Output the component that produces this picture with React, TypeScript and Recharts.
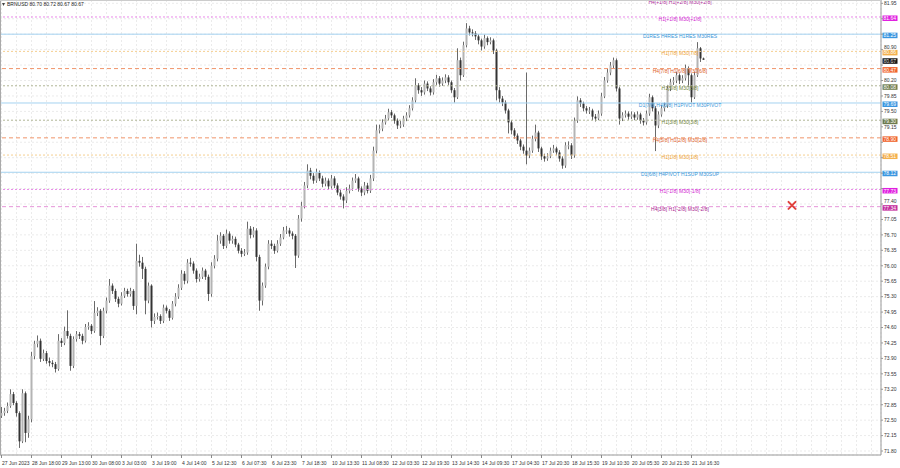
import React from "react";
import {
  ComposedChart,
  Bar,
  XAxis,
  YAxis,
  CartesianGrid,
  ReferenceLine,
  ReferenceDot,
} from "recharts";

// M30 candles, one per slot
const firstOpen = 72.6;

const closes = [
  72.66, 72.71, 72.82, 73.09, 72.89, 72.66, 72.02, 73.11, 72.21, 72.52,
  73.95, 74.23, 74.3, 73.89, 74.02, 73.84, 73.8, 73.77, 73.66, 74.3,
  74.25, 74.52, 74.41, 73.73, 74.34, 74.45, 74.41, 74.3, 74.61, 74.64,
  74.52, 74.93, 74.98, 74.41, 74.98, 75.21, 75.55, 75.43, 75.25, 75.14,
  75.32, 75.43, 75.36, 75.43, 75.09, 76.11, 76.07, 75.93, 75.21, 75.55,
  74.75, 74.84, 74.86, 74.75, 75.05, 74.98, 74.82, 75.14, 75.3, 75.5,
  75.82, 75.66, 76.07, 76.05, 75.89, 75.7, 75.75, 75.89, 75.75, 75.36,
  76.0, 76.16, 76.57, 76.68, 76.45, 76.73, 76.57, 76.61, 76.48, 76.34,
  76.27, 76.3, 76.84, 76.7, 76.8, 76.2, 75.21, 75.55, 75.98, 76.5,
  76.45, 76.34, 76.5, 76.64, 76.8, 76.8, 76.73, 76.68, 76.23, 77.07,
  77.36, 77.82, 78.16, 78.04, 77.93, 78.11, 77.98, 77.86, 77.93, 77.8,
  77.98, 77.82, 77.66, 77.57, 77.48, 77.7, 77.75, 77.93, 77.98, 77.75,
  77.66, 77.82, 77.7, 77.98, 78.61, 79.07, 79.11, 79.25, 79.34, 79.48,
  79.41, 79.29, 79.18, 79.2, 79.34, 79.41, 79.57, 79.75, 80.09, 79.98,
  79.93, 80.13, 80.02, 79.93, 80.16, 80.25, 80.13, 80.2, 80.27, 80.16,
  79.98, 79.82, 80.66, 80.32, 81.0, 81.38, 81.29, 81.27, 81.2, 81.11,
  80.97, 81.16, 81.07, 81.11, 80.88, 79.98, 79.79, 79.7, 79.52, 79.25,
  79.07, 78.95, 78.84, 78.7, 78.61, 78.5, 78.61, 78.88, 79.02, 78.66,
  78.48, 78.43, 78.48, 78.61, 78.66, 78.57, 78.43, 78.27, 78.73, 78.73,
  78.5, 79.29, 79.75, 79.68, 79.57, 79.52, 79.52, 79.38, 79.34, 79.45,
  79.84, 80.2, 80.38, 80.54, 80.66, 80.02, 79.34, 79.41, 79.45, 79.38,
  79.43, 79.36, 79.43, 79.29, 79.25, 79.45, 79.82, 79.57, 79.18, 79.43,
  79.57, 79.63, 80.02, 80.16, 80.2, 80.32, 80.2, 80.25, 80.48, 80.32,
  79.82, 80.32, 80.93, 80.7, 80.67,
];

const highs = [
  72.8, 72.78, 72.9, 73.2, 73.14, 72.93, 72.7, 73.2, 73.15, 72.6,
  74.05, 74.3, 74.42, 74.35, 74.1, 74.07, 73.92, 73.86, 73.82, 74.45,
  74.36, 74.62, 74.99, 74.46, 74.4, 74.52, 74.5, 74.46, 74.68, 74.72,
  74.68, 75.2, 75.06, 75.02, 75.05, 75.28, 75.7, 75.6, 75.48, 75.3,
  75.4, 75.5, 75.48, 75.5, 75.47, 76.5, 76.25, 76.2, 75.98, 75.62,
  75.58, 74.92, 74.94, 74.9, 75.12, 75.1, 75.02, 75.2, 75.38, 75.58,
  75.9, 75.88, 76.15, 76.18, 76.1, 75.94, 75.82, 75.96, 75.93, 75.8,
  76.08, 76.24, 76.7, 76.76, 76.72, 76.82, 76.78, 76.68, 76.66, 76.52,
  76.4, 76.38, 77.0, 76.9, 76.88, 76.85, 76.25, 75.62, 76.05, 76.58,
  76.58, 76.5, 76.58, 76.72, 76.88, 76.9, 76.86, 76.78, 76.72, 77.15,
  77.45, 77.9, 78.3, 78.22, 78.1, 78.2, 78.16, 78.04, 78.0, 77.98,
  78.06, 78.03, 77.87, 77.72, 77.62, 77.78, 77.84, 78.0, 78.08, 78.02,
  77.8, 77.9, 77.88, 78.06, 78.7, 79.2, 79.2, 79.32, 79.42, 79.56,
  79.53, 79.45, 79.34, 79.28, 79.4, 79.48, 79.64, 79.82, 80.25, 80.14,
  80.05, 80.2, 80.18, 80.07, 80.23, 80.33, 80.3, 80.27, 80.34, 80.32,
  80.2, 80.03, 80.93, 80.72, 81.08, 81.5, 81.44, 81.36, 81.32, 81.25,
  81.15, 81.24, 81.2, 81.18, 81.15, 80.92, 80.05, 79.85, 79.75, 79.56,
  79.3, 79.12, 79.0, 78.88, 78.75, 80.38, 78.68, 78.95, 79.2, 79.06,
  78.7, 78.54, 78.55, 78.68, 78.74, 78.7, 78.62, 78.48, 78.8, 78.82,
  78.78, 79.36, 79.84, 79.8, 79.72, 79.62, 79.6, 79.56, 79.44, 79.52,
  79.92, 80.28, 80.46, 80.62, 80.72, 80.7, 80.06, 79.48, 79.52, 79.5,
  79.5, 79.48, 79.5, 79.47, 79.35, 79.52, 79.9, 79.86, 79.62, 79.5,
  79.64, 79.7, 80.1, 80.24, 80.28, 80.4, 80.36, 80.32, 80.56, 80.52,
  80.36, 80.4, 81.07, 80.96, 80.72,
];

const lows = [
  72.55, 72.6, 72.66, 72.78, 72.84, 72.58, 71.87, 71.98, 72.0, 72.1,
  72.45, 73.88, 74.15, 73.82, 73.84, 73.78, 73.72, 73.7, 73.58, 73.62,
  74.16, 74.2, 74.35, 73.62, 73.68, 74.28, 74.34, 74.22, 74.26, 74.55,
  74.45, 74.48, 74.86, 74.2, 74.36, 74.92, 75.16, 75.36, 75.18, 75.06,
  75.1, 75.27, 75.3, 75.3, 75.0, 74.9, 75.98, 75.7, 74.9, 75.15,
  74.6, 74.68, 74.78, 74.68, 74.7, 74.92, 74.75, 74.78, 75.08, 75.25,
  75.45, 75.58, 75.6, 75.98, 75.82, 75.62, 75.64, 75.7, 75.68, 75.2,
  75.3, 75.94, 76.1, 76.5, 76.38, 76.4, 76.5, 76.5, 76.42, 76.28,
  76.2, 76.22, 76.25, 76.62, 76.64, 76.1, 74.98, 75.1, 75.5, 75.92,
  76.38, 76.27, 76.3, 76.45, 76.6, 76.72, 76.66, 76.6, 75.95, 76.18,
  77.0, 77.3, 77.76, 77.96, 77.86, 77.88, 77.92, 77.78, 77.8, 77.72,
  77.75, 77.76, 77.6, 77.5, 77.3, 77.42, 77.64, 77.7, 77.88, 77.68,
  77.58, 77.6, 77.64, 77.65, 77.92, 78.55, 79.0, 79.05, 79.2, 79.3,
  79.35, 79.22, 79.1, 79.12, 79.15, 79.28, 79.36, 79.52, 79.7, 79.9,
  79.85, 79.88, 79.96, 79.86, 79.88, 80.1, 80.06, 80.08, 80.14, 80.1,
  79.92, 79.7, 79.78, 80.2, 80.28, 80.95, 81.22, 81.2, 81.12, 81.02,
  80.88, 80.92, 81.0, 81.02, 80.8, 79.75, 79.7, 79.62, 79.45, 79.0,
  78.98, 78.88, 78.76, 78.62, 78.54, 78.3, 78.44, 78.56, 78.82, 78.58,
  78.4, 78.36, 78.38, 78.44, 78.56, 78.5, 78.36, 78.2, 78.22, 78.64,
  78.42, 78.45, 79.24, 79.6, 79.5, 79.45, 79.44, 79.3, 79.27, 79.3,
  79.4, 79.8, 80.15, 80.32, 80.48, 79.95, 79.2, 79.28, 79.36, 79.31,
  79.33, 79.3, 79.31, 79.22, 79.18, 79.2, 79.4, 79.5, 78.6, 79.12,
  79.38, 79.5, 79.58, 79.96, 80.1, 80.14, 80.12, 80.14, 80.2, 80.06,
  79.7, 79.78, 80.28, 80.62, 80.67,
];

const dateLabels = [
  "27 Jun 2023", "28 Jun 18:00", "29 Jun 13:00", "30 Jun 08:00", "3 Jul 03:00",
  "3 Jul 19:00", "4 Jul 14:00", "5 Jul 12:30", "6 Jul 07:30", "6 Jul 23:30",
  "7 Jul 18:30", "10 Jul 13:30", "11 Jul 08:30", "12 Jul 03:30", "12 Jul 19:30",
  "13 Jul 14:30", "14 Jul 09:30", "17 Jul 04:30", "17 Jul 20:30", "18 Jul 15:30",
  "19 Jul 10:30", "20 Jul 05:30", "20 Jul 21:30", "21 Jul 16:30",
];

// right scale ticks; the ones sitting under a level box are not printed
const priceTicks = [
  71.8, 72.15, 72.5, 72.85, 73.2, 73.55, 73.9, 74.25, 74.6, 74.95,
  75.3, 75.65, 76.0, 76.35, 76.7, 77.05, 77.4, 77.75, 78.1, 78.45,
  78.8, 79.15, 79.5, 79.85, 80.2, 80.55, 80.9, 81.25, 81.6, 81.95,
];
const hiddenTicks = [77.75, 78.1, 78.45, 78.8, 81.25, 81.6];

const levelPrices = [82.03, 81.64, 81.25, 80.86, 80.47, 80.08, 79.69, 79.3, 78.9, 78.51, 78.12, 77.73, 77.34];
const levelNames = [
  "H4[+1/8] H1[+2/8] M30[+2/8]",
  "H1[+1/8] M30[+1/8]",
  "D1RES H4RES H1RES M30RES",
  "H1[7/8] M30[7/8]",
  "H4[7/8] H1[6/8] M30[6/8]",
  "H1[5/8] M30[5/8]",
  "D1[7/8] H4[6/8] H1PIVOT M30PIVOT",
  "H1[3/8] M30[3/8]",
  "H4[5/8] H1[2/8] M30[2/8]",
  "H1[1/8] M30[1/8]",
  "D1[6/8] H4PIVOT H1SUP M30SUP",
  "H1[-1/8] M30[-1/8]",
  "H4[3/8] H1[-2/8] M30[-2/8]",
];
const levelKinds = ["h4top", "h1out", "pivot", "h1hi", "h4", "h1mid", "pivot", "h1mid", "h4", "h1hi", "pivot", "h1out", "h4low"];

const symbol = "BRNUSD";
const ohlc = [80.7, 80.72, 80.67, 80.67];
const lastPrice = 80.67;
const crossMark = { slot: 263.5, price: 77.37 };

const FONT = "'Liberation Sans', Arial, sans-serif";

const KIND_STYLE: Record<string, { line: string; text: string; box: string | null; dash: string }> = {
  h4top: { line: "#e58fd6", text: "#b0309c", box: null, dash: "4 3" },
  h1out: { line: "#ea8aea", text: "#d21fd2", box: "#e01fe0", dash: "2 2" },
  pivot: { line: "#a4d2f0", text: "#3a96d8", box: "#3a96e0", dash: "" },
  h1hi: { line: "#f5cf90", text: "#eea232", box: "#f4b04c", dash: "2 2" },
  h4: { line: "#f0946a", text: "#e0622a", box: "#f0642c", dash: "4 3" },
  h1mid: { line: "#b0b696", text: "#6e8236", box: "#6d7a4c", dash: "2 2" },
  h4low: { line: "#e595d8", text: "#a8208f", box: "#c4309e", dash: "4 3" },
};

// price levels that carry a box on the right scale
const boxedLevels = [...levelPrices.filter((_, i) => KIND_STYLE[levelKinds[i]].box), lastPrice];

const candles = closes.map((c, i) => ({
  slot: i,
  open: i === 0 ? firstOpen : closes[i - 1],
  close: c,
  high: highs[i],
  low: lows[i],
  range: [lows[i], highs[i]],
}));

const gridSlots: number[] = [];
for (let s = 0; s <= 290; s += 5) gridSlots.push(s);

const Candle = (props: any) => {
  const { x, y, width, height, payload } = props;
  if (!payload) return null;
  const top = Math.min(y, y + height);
  const h = Math.abs(height);
  const span = payload.high - payload.low || 1;
  const k = h / span;
  const bTop = top + (payload.high - Math.max(payload.open, payload.close)) * k;
  const bBot = top + (payload.high - Math.min(payload.open, payload.close)) * k;
  const cx = Math.round(x + width / 2);
  const bull = payload.close >= payload.open;
  return (
    <g>
      <line x1={cx + 0.5} x2={cx + 0.5} y1={top} y2={top + h} stroke="#6a6a6a" strokeWidth={1} />
      <rect
        x={cx - 0.5}
        y={bTop}
        width={2}
        height={Math.max(1, bBot - bTop)}
        fill={bull ? "#b4b4b4" : "#333333"}
      />
    </g>
  );
};

const XTick = (props: any) => {
  const { x, y, payload } = props;
  const v = payload.value;
  if (v % 10 !== 0) return null;
  const label = dateLabels[v / 10];
  if (!label) return null;
  return (
    <g>
      <line x1={x} x2={x} y1={y - 8} y2={y - 5} stroke="#888" />
      <text x={x + 0.5} y={y + 2} fontSize={5} fontFamily={FONT} fill="#333" textAnchor="start">
        {label}
      </text>
    </g>
  );
};

const YTick = (props: any) => {
  const { x, y, payload } = props;
  const v = payload.value;
  if (hiddenTicks.includes(v)) return null;
  // a tick just above a level box is lifted so the box does not cover it
  const nearBox = boxedLevels.some((b) => v - b > 0 && v - b < 0.1);
  return (
    <text x={x} y={y + (nearBox ? -0.6 : 1.8)} fontSize={5} fontFamily={FONT} fill="#333" textAnchor="start">
      {v.toFixed(2)}
    </text>
  );
};

const LevelLabel = (props: any) => {
  const { viewBox, name, kind, price } = props;
  if (!viewBox) return null;
  const st = KIND_STYLE[kind];
  const { x, y, width } = viewBox;
  return (
    <g>
      <text x={x + 680} y={y + 4} fontSize={5} fontFamily={FONT} fill={st.text} textAnchor="middle">
        {name}
      </text>
      {st.box && (
        <g>
          <rect x={x + width + 1.5} y={y - 1.5} width={15} height={5.5} fill={st.box} />
          <text x={x + width + 2.5} y={y + 3.1} fontSize={5} fontFamily={FONT} fill="#fff">
            {price.toFixed(2)}
          </text>
        </g>
      )}
    </g>
  );
};

const PriceBox = (props: any) => {
  const { viewBox } = props;
  if (!viewBox) return null;
  const { x, y, width } = viewBox;
  return (
    <g>
      <rect x={x + width + 1.5} y={y - 1.5} width={15} height={5.5} fill="#111" />
      <text x={x + width + 2.5} y={y + 3.1} fontSize={5} fontFamily={FONT} fill="#fff">
        {lastPrice.toFixed(2)}
      </text>
    </g>
  );
};

const Cross = (props: any) => {
  const { cx, cy } = props;
  return (
    <g stroke="#e0403c" strokeWidth={2} strokeLinecap="round">
      <line x1={cx - 3.5} y1={cy - 3.5} x2={cx + 3.5} y2={cy + 3.5} />
      <line x1={cx - 3.5} y1={cy + 3.5} x2={cx + 3.5} y2={cy - 3.5} />
    </g>
  );
};

export default function App() {
  return (
    <div style={{ position: "absolute", left: 0, top: 0, width: 900, height: 468, background: "#fff" }}>
      <ComposedChart width={900} height={468} data={candles} margin={{ top: 0, right: 0, bottom: 0, left: 0 }}>
        <CartesianGrid stroke="#ebebeb" strokeDasharray="2 2" />
        <XAxis
          dataKey="slot"
          type="number"
          domain={[-0.5, 293.17]}
          allowDataOverflow
          ticks={gridSlots}
          interval={0}
          height={13}
          tickLine={false}
          axisLine={{ stroke: "#999" }}
          tick={<XTick />}
        />
        <YAxis
          orientation="right"
          type="number"
          domain={[71.71, 82.025]}
          allowDataOverflow
          ticks={priceTicks}
          interval={0}
          width={19}
          tickSize={2}
          tickMargin={1}
          tickLine={{ stroke: "#999" }}
          axisLine={{ stroke: "#999" }}
          tick={<YTick />}
        />
        {levelPrices.map((p, i) => {
          const st = KIND_STYLE[levelKinds[i]];
          return (
            <ReferenceLine
              key={i}
              y={p}
              ifOverflow="visible"
              stroke={st.line}
              strokeWidth={1}
              strokeDasharray={st.dash}
              label={<LevelLabel name={levelNames[i]} kind={levelKinds[i]} price={p} />}
            />
          );
        })}
        <ReferenceLine y={lastPrice} stroke="none" strokeOpacity={0} label={<PriceBox />} />
        <Bar dataKey="range" barSize={2} shape={<Candle />} isAnimationActive={false} />
        <ReferenceDot x={crossMark.slot} y={crossMark.price} r={4} shape={<Cross />} />
      </ComposedChart>
      <svg width={900} height={468} style={{ position: "absolute", left: 0, top: 0, pointerEvents: "none" }}>
        <line x1={0.5} y1={0} x2={0.5} y2={455} stroke="#aaa" />
        <line x1={0} y1={0.5} x2={881} y2={0.5} stroke="#ccc" />
        <path d="M2 3 L5 3 L3.5 6 Z" fill="#444" />
        <text x={7} y={6} fontSize={5} fontFamily={FONT} fill="#222">
          {symbol + "  " + ohlc.map((v) => v.toFixed(2)).join(" ")}
        </text>
      </svg>
    </div>
  );
}
